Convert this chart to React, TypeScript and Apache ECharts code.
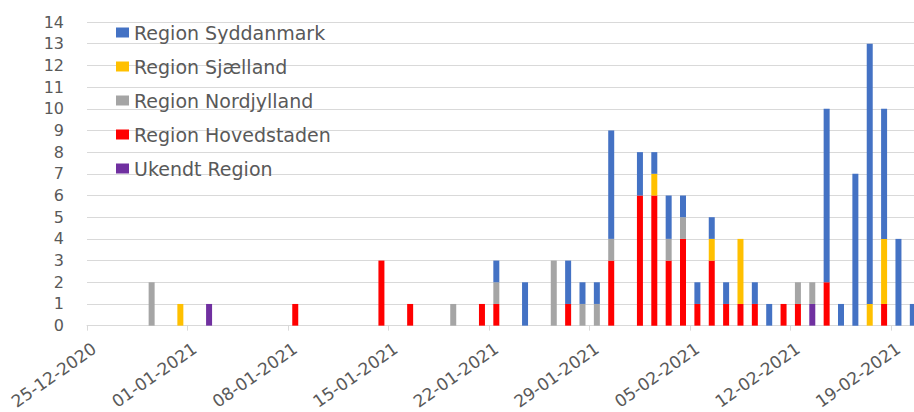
import React, { useEffect, useRef } from "react";
import * as echarts from "echarts";

// Days from 25-12-2020 (day 0) to 20-02-2021 (day 57)
const startDate = new Date(Date.UTC(2020, 11, 25));
const dayCount = 58;
const pad = (n: number) => (n < 10 ? "0" + n : "" + n);
const categories: string[] = [];
for (let i = 0; i < dayCount; i++) {
  const d = new Date(startDate.getTime() + i * 86400000);
  categories.push(`${pad(d.getUTCDate())}-${pad(d.getUTCMonth() + 1)}-${d.getUTCFullYear()}`);
}

// Values per day, one row per week
const ukendt = [
  0, 0, 0, 0, 0, 0, 0,
  0, 1, 0, 0, 0, 0, 0,
  0, 0, 0, 0, 0, 0, 0,
  0, 0, 0, 0, 0, 0, 0,
  0, 0, 0, 0, 0, 0, 0,
  0, 0, 0, 0, 0, 0, 0,
  0, 0, 0, 0, 0, 0, 0,
  0, 1, 0, 0, 0, 0, 0,
  0, 0,
];
const hovedstaden = [
  0, 0, 0, 0, 0, 0, 0,
  0, 0, 0, 0, 0, 0, 0,
  1, 0, 0, 0, 0, 0, 3,
  0, 1, 0, 0, 0, 0, 1,
  1, 0, 0, 0, 0, 1, 0,
  0, 3, 0, 6, 6, 3, 4,
  1, 3, 1, 1, 1, 0, 1,
  1, 0, 2, 0, 0, 0, 1,
  0, 0,
];
const nordjylland = [
  0, 0, 0, 0, 2, 0, 0,
  0, 0, 0, 0, 0, 0, 0,
  0, 0, 0, 0, 0, 0, 0,
  0, 0, 0, 0, 1, 0, 0,
  1, 0, 0, 0, 3, 0, 1,
  1, 1, 0, 0, 0, 1, 1,
  0, 0, 0, 0, 0, 0, 0,
  1, 1, 0, 0, 0, 0, 0,
  0, 0,
];
const sjaelland = [
  0, 0, 0, 0, 0, 0, 1,
  0, 0, 0, 0, 0, 0, 0,
  0, 0, 0, 0, 0, 0, 0,
  0, 0, 0, 0, 0, 0, 0,
  0, 0, 0, 0, 0, 0, 0,
  0, 0, 0, 0, 1, 0, 0,
  0, 1, 0, 3, 0, 0, 0,
  0, 0, 0, 0, 0, 1, 3,
  0, 0,
];
const syddanmark = [
  0, 0, 0, 0, 0, 0, 0,
  0, 0, 0, 0, 0, 0, 0,
  0, 0, 0, 0, 0, 0, 0,
  0, 0, 0, 0, 0, 0, 0,
  1, 0, 2, 0, 0, 2, 1,
  1, 5, 0, 2, 1, 2, 1,
  1, 1, 1, 0, 1, 1, 0,
  0, 0, 8, 1, 7, 12, 6,
  4, 1,
];

const seriesNames = [
  "Ukendt Region",
  "Region Hovedstaden",
  "Region Nordjylland",
  "Region Sjælland",
  "Region Syddanmark",
];
const seriesValues = [ukendt, hovedstaden, nordjylland, sjaelland, syddanmark];
const seriesColors = ["#7030A0", "#FF0000", "#A5A5A5", "#FFC000", "#4472C4"];
const legendOrder = [...seriesNames].reverse();

const FONT = "DejaVu Sans";
const TEXT = "#595959";
const GRID = "#D9D9D9";

export default function App() {
  const ref = useRef<HTMLDivElement>(null);
  useEffect(() => {
    if (!ref.current) return;
    const chart = echarts.init(ref.current, undefined, { renderer: "svg" });
    chart.setOption({
      animation: false,
      backgroundColor: "#ffffff",
      grid: { left: 87, top: 22, right: 0, height: 304 },
      legend: {
        data: legendOrder,
        orient: "vertical",
        left: 111,
        top: 18,
        itemGap: 15,
        itemWidth: 13,
        itemHeight: 10,
        icon: "rect",
        textStyle: { fontFamily: FONT, fontSize: 19, color: TEXT, lineHeight: 19 },
      },
      xAxis: {
        type: "category",
        data: categories,
        boundaryGap: true,
        axisLine: { lineStyle: { color: GRID, width: 1 } },
        axisTick: { show: true, interval: 6, length: 5, lineStyle: { color: GRID } },
        axisLabel: {
          interval: 6,
          rotate: 35,
          margin: 21,
          fontFamily: FONT,
          fontSize: 17,
          color: TEXT,
        },
        splitLine: { show: false },
      },
      yAxis: {
        type: "value",
        min: 0,
        max: 14,
        interval: 1,
        axisLine: { show: false },
        axisTick: { show: false },
        axisLabel: { fontFamily: FONT, fontSize: 16, color: TEXT, margin: 23 },
        splitLine: { lineStyle: { color: GRID, width: 1 } },
      },
      series: seriesNames.map((name, i) => ({
        name,
        type: "bar",
        stack: "total",
        barWidth: 6,
        data: seriesValues[i],
        itemStyle: { color: seriesColors[i] },
      })),
    });
    return () => chart.dispose();
  }, []);
  return (
    <div
      ref={ref}
      style={{ position: "fixed", left: 0, top: 0, width: 87 + 58 * 14.355, height: 412, background: "#fff" }}
    />
  );
}
